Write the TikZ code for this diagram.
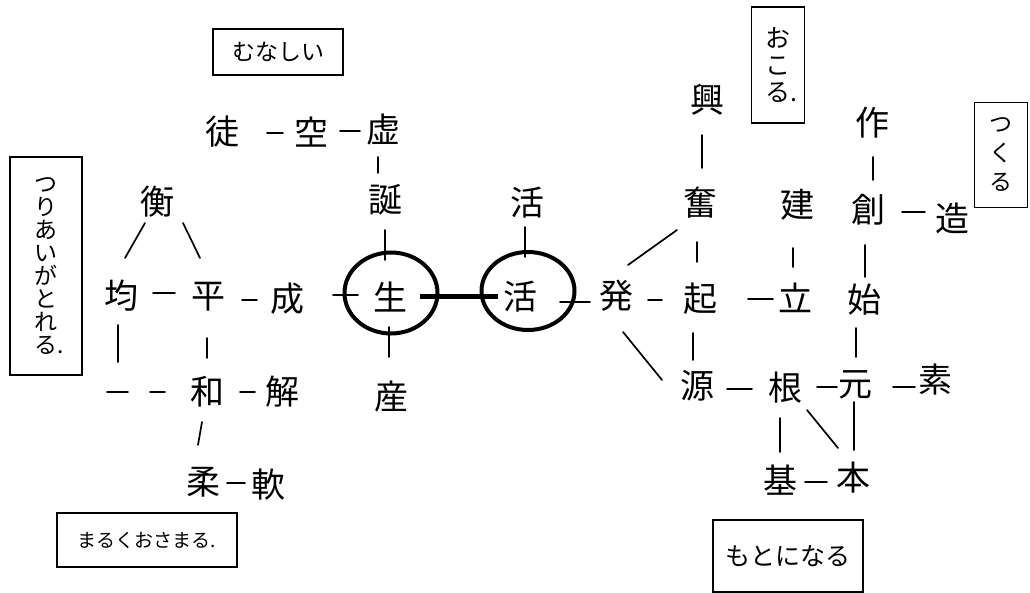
\documentclass[tikz,border=0pt]{standalone}
\usepackage{fontspec}
\newfontfamily\jp{Noto Sans CJK JP}
\usetikzlibrary{calc,shapes.geometric}
\begin{document}
\begin{tikzpicture}[x=1pt,y=-1pt,
  kj/.style={inner sep=0pt,font=\jp\fontsize{34}{34}\selectfont},
  ln/.style={line width=1.7pt,line cap=round},
  ring/.style={draw,ellipse,line width=4pt,inner sep=0pt},
  tag/.style={draw,line width=1.4pt,inner sep=0pt,align=center},
]
\useasboundingbox[fill=white] (0,0) rectangle (1030,593);

% ---- label boxes
\node[tag,minimum width=130pt,minimum height=46pt,font=\jp\fontsize{23}{23}\selectfont] (munashii) at (278,52) {むなしい};
\node[tag,minimum width=72pt,minimum height=218pt,font=\jp\fontsize{23}{23}\selectfont] (tsuri) at (46,266) {つ\\り\\あ\\い\\が\\と\\れ\\る\rlap{.}};
\node[tag,minimum width=180pt,minimum height=54pt,font=\jp\fontsize{19}{19}\selectfont] (maruku) at (147,540) {まるくおさまる.};
\node[tag,minimum width=53pt,minimum height=116pt,font=\jp\fontsize{25}{27}\selectfont] (okoru) at (778,65) {お\\こ\\る\rlap{.}};
\node[tag,minimum width=53pt,minimum height=105pt,font=\jp\fontsize{23}{29}\selectfont] (tsukuru) at (1001,155) {つ\\く\\る};
\node[tag,minimum width=150pt,minimum height=72pt,font=\jp\fontsize{25}{25}\selectfont] (motoni) at (788,556) {もとになる};

% ---- left / centre kanji
\node[kj] (tu) at (222,132) {徒};
\node[kj] (kuu) at (311,132) {空};
\node[kj] (kyo) at (383,130) {虚};
\node[kj] (tan) at (385,200) {誕};
\node[ring,minimum width=93pt,minimum height=81pt] (c1) at (391,293) {};
\node[kj] (sei) at (390,297) {生};
\node[kj] (san) at (391,397) {産};
\node[ring,minimum width=93pt,minimum height=78pt] (c2) at (528,291) {};
\node[kj] (katsu) at (520,297) {活};
\node[kj] (katsu2) at (527,203) {活};

\node[kj] (kou) at (157,202) {衡};
\node[kj] (kin) at (121,296) {均};
\node[kj] (hei) at (208,297) {平};
\node[kj] (sei2) at (287,299) {成};
\node[kj] (wa) at (207,392) {和};
\node[kj] (kai) at (282,392) {解};
\node[kj] (juu) at (203,482) {柔};
\node[kj] (nan) at (268,485) {軟};
\coordinate (corner) at (118,392);

% ---- right kanji
\node[kj] (kou2) at (707,100) {興};
\node[kj] (fun) at (700,203) {奮};
\node[kj] (ki) at (700,299) {起};
\node[kj] (hatsu) at (616,296) {発};
\node[kj] (ritsu) at (795,298) {立};
\node[kj] (ken) at (797,205) {建};
\node[kj] (saku) at (872,123) {作};
\node[kj] (sou) at (868,210) {創};
\node[kj] (zou) at (952,218) {造};
\node[kj] (shi) at (864,300) {始};
\node[kj] (gen) at (697,386) {源};
\node[kj] (kon) at (785,388) {根};
\node[kj] (moto) at (855,385) {元};
\node[kj] (so) at (935,380) {素};
\node[kj] (ki2) at (780,480) {基};
\node[kj] (hon) at (853,478) {本};

% ---- left connectors
\draw[ln] ($(tu)+(45,1)$) -- ($(kuu)+(-28,1)$);
\draw[ln] ($(kuu)+(29,-1)$) -- ($(kyo)+(-23,1)$);
\draw[ln] ($(kyo)+(-5,27)$) -- ($(tan)+(-7,-27)$);
\draw[ln] ($(tan)+(0,30)$) -- ($(sei)+(-5,-37)$);
\draw[ln] ($(sei)+(-1,30)$) -- ($(san)+(-2,-40)$);
\draw[ln] ($(sei2)+(46,-4)$) -- ($(sei)+(-32,-2)$);
\draw[ln] ($(kin)+(32,-3)$) -- ($(hei)+(-33,-4)$);
\draw[ln] ($(hei)+(34,3)$) -- ($(sei2)+(-30,1)$);
\draw[ln] ($(kou)+(-12,21)$) -- ($(kin)+(4,-38)$);
\draw[ln] ($(kou)+(26,21)$) -- ($(hei)+(-8,-39)$);
\draw[ln] ($(kin)+(-3,29)$) -- ($(corner)+(0,-30)$);
\draw[ln] ($(corner)+(-11,0)$) -- ($(corner)+(10,0)$);
\draw[ln] ($(wa)+(-57,0)$) -- ($(wa)+(-42,0)$);
\draw[ln] ($(hei)+(-1,41)$) -- ($(wa)+(0,-34)$);
\draw[ln] ($(wa)+(33,0)$) -- ($(kai)+(-27,0)$);
\draw[ln] ($(wa)+(-5,30)$) -- ($(juu)+(-5,-37)$);
\draw[ln] ($(juu)+(24,1)$) -- ($(nan)+(-23,-2)$);

% ---- centre
\draw[line width=5pt] ($(c1)+(29,4)$) -- ($(c2)+(-30,6)$);
\draw[ln] ($(katsu2)+(-2,24)$) -- ($(c2)+(-3,-34)$);
\draw[ln] ($(c2)+(32,11)$) -- ($(hatsu)+(-26,6)$);

% ---- right connectors
\draw[ln] ($(kou2)+(-5,35)$) -- ($(fun)+(2,-35)$);
\draw[ln] ($(fun)+(-3,39)$) -- ($(ki)+(-3,-37)$);
\draw[ln] ($(fun)+(-23,27)$) -- ($(hatsu)+(12,-31)$);
\draw[ln] ($(hatsu)+(32,4)$) -- ($(ki)+(-38,1)$);
\draw[ln] ($(ki)+(48,0)$) -- ($(ritsu)+(-22,1)$);
\draw[ln] ($(ken)+(-4,43)$) -- ($(ritsu)+(-2,-31)$);
\draw[ln] ($(saku)+(1,34)$) -- ($(sou)+(5,-30)$);
\draw[ln] ($(sou)+(34,2)$) -- ($(zou)+(-27,-6)$);
\draw[ln] ($(sou)+(-3,35)$) -- ($(shi)+(1,-23)$);
\draw[ln] ($(hatsu)+(7,36)$) -- ($(gen)+(-35,-6)$);
\draw[ln] ($(ki)+(-7,34)$) -- ($(gen)+(-4,-26)$);
\draw[ln] ($(shi)+(-8,28)$) -- ($(moto)+(1,-28)$);
\draw[ln] ($(gen)+(30,3)$) -- ($(kon)+(-33,1)$);
\draw[ln] ($(kon)+(32,-1)$) -- ($(moto)+(-18,2)$);
\draw[ln] ($(moto)+(38,2)$) -- ($(so)+(-20,7)$);
\draw[ln] ($(kon)+(-5,30)$) -- ($(ki2)+(0,-28)$);
\draw[ln] ($(kon)+(22,22)$) -- ($(hon)+(-15,-30)$);
\draw[ln] ($(moto)+(-1,17)$) -- ($(hon)+(1,-28)$);
\draw[ln] ($(ki2)+(25,2)$) -- ($(hon)+(-26,4)$);
\end{tikzpicture}
\end{document}
